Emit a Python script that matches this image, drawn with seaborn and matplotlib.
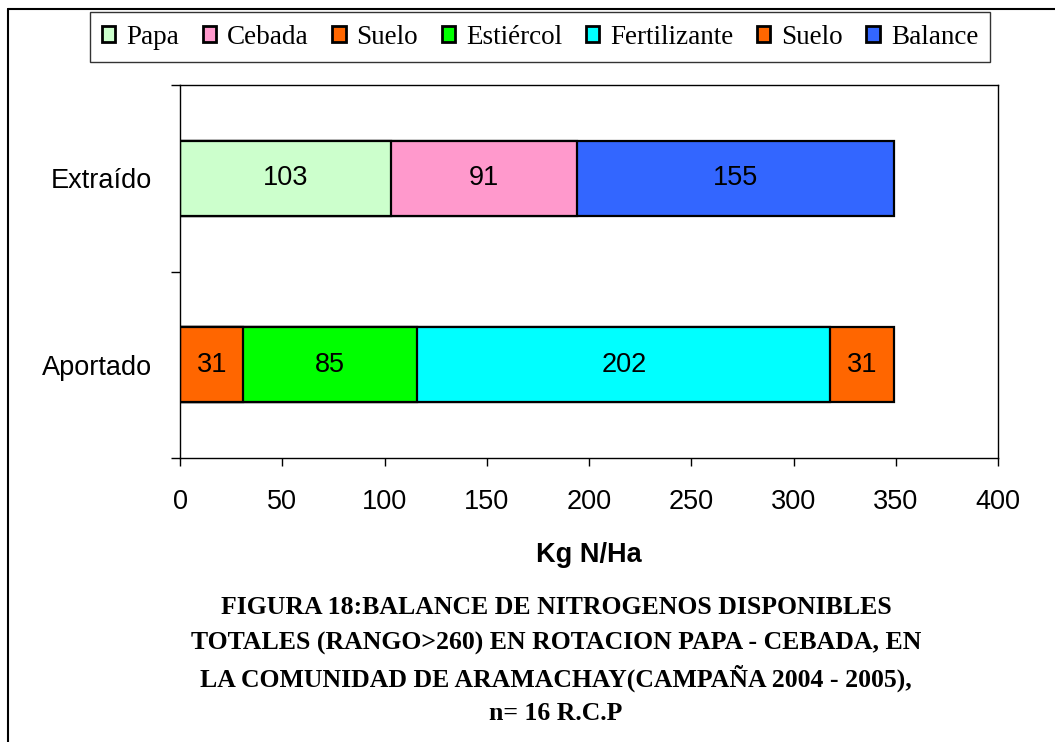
import matplotlib
matplotlib.use("Agg")
import matplotlib.pyplot as plt
import numpy as np
import seaborn as sns
from matplotlib.patches import Patch
from matplotlib.lines import Line2D

# datos del grafico
categorias = ["Extraído", "Aportado"]
extraido_nombres = ["Papa", "Cebada", "Balance"]
extraido_valores = [103, 91, 155]
aportado_nombres = ["Suelo", "Estiércol", "Fertilizante", "Suelo"]
aportado_valores = [31, 85, 202, 31]
leyenda = ["Papa", "Cebada", "Suelo", "Estiércol", "Fertilizante", "Suelo", "Balance"]
colores = {"Papa": "#CCFFCC", "Cebada": "#FF99CC", "Suelo": "#FF6600",
           "Estiércol": "#00FF00", "Fertilizante": "#00FFFF", "Balance": "#3366FF"}
xticks = [0, 50, 100, 150, 200, 250, 300, 350, 400]
titulo = ["FIGURA 18:BALANCE DE NITROGENOS DISPONIBLES",
          "TOTALES (RANGO>260) EN ROTACION PAPA - CEBADA, EN",
          "LA COMUNIDAD DE ARAMACHAY(CAMPAÑA 2004 - 2005),",
          "n= 16 R.C.P"]

sns.set_style("white")
plt.rcParams["font.family"] = ["Liberation Sans", "DejaVu Sans"]
plt.rcParams["text.color"] = "black"
plt.rcParams["axes.labelcolor"] = "black"
plt.rcParams["xtick.color"] = "black"
plt.rcParams["ytick.color"] = "black"

fig = plt.figure(figsize=(10.55, 7.42), dpi=100)
ax = fig.add_axes([180 / 1055, 1 - 458 / 742, (998 - 180) / 1055, (458 - 85) / 742])

filas = [(categorias[0], extraido_nombres, extraido_valores),
         (categorias[1], aportado_nombres, aportado_valores)]

# barras apiladas: se dibuja el acumulado de mayor a menor
for cat, nombres, valores in filas:
    acum = np.cumsum(valores)
    for i in range(len(valores) - 1, -1, -1):
        sns.barplot(x=[acum[i]], y=[cat], order=categorias, orient="h",
                    color=colores[nombres[i]], saturation=1, width=0.4,
                    errorbar=None, edgecolor="black", linewidth=1.6, ax=ax)
    inicio = acum - np.array(valores)
    for v, s in zip(valores, inicio):
        ax.text(s + v / 2, categorias.index(cat), str(v), ha="center", va="center",
                fontsize=19.5)

ax.set_xlim(0, 400)
ax.set_ylim(1.5, -0.5)
ax.set_xticks(xticks)
ax.set_xticklabels([str(t) for t in xticks], fontsize=19.5)
ax.tick_params(axis="x", direction="out", length=6, width=1, pad=16, bottom=True)
ax.set_yticks([0, 1])
ax.set_yticklabels(categorias, fontsize=19.5)
ax.set_yticks([-0.5, 0.5, 1.5], minor=True)
ax.tick_params(axis="y", which="major", length=0, pad=20)
ax.tick_params(axis="y", which="minor", direction="out", length=6.5, width=1, left=True)
ax.set_ylabel("")
ax.set_xlabel("Kg N/Ha", fontsize=19.5, fontweight="bold", labelpad=20)
for sp in ax.spines.values():
    sp.set_visible(True)
    sp.set_color("black")
    sp.set_linewidth(1)

# leyenda
handles = [Patch(facecolor=colores[n], edgecolor="black", linewidth=2) for n in leyenda]
leg = fig.legend(handles, leyenda, loc="center", bbox_to_anchor=(540 / 1055, 1 - 37 / 742),
                 ncol=7, frameon=True, fancybox=False, edgecolor="black",
                 handlelength=0.5, handleheight=0.5, handletextpad=0.4,
                 columnspacing=0.87, borderpad=0.45, borderaxespad=0,
                 prop={"family": "Liberation Serif", "size": 19.5})
leg.get_frame().set_linewidth(1)

# marco exterior
fig.add_artist(Line2D([8 / 1055, 1], [1 - 9 / 742, 1 - 9 / 742], color="black", lw=1.5))
fig.add_artist(Line2D([8 / 1055, 8 / 1055], [0, 1 - 9 / 742], color="black", lw=1.5))

# titulo inferior
for k, linea in enumerate(titulo):
    fig.text(556 / 1055, 1 - (608 + 35 * k) / 742, linea, ha="center", va="center",
             fontsize=18.5, fontweight="bold", family="Liberation Serif")

fig.savefig("out.png", dpi=100)
